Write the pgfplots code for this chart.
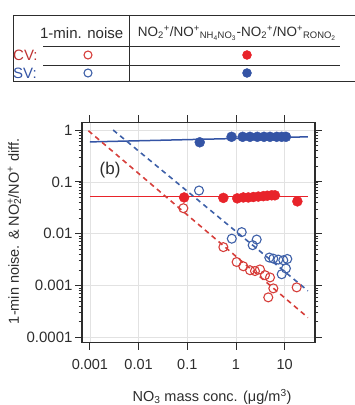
\documentclass[border=0pt]{standalone}
\usepackage{fontspec}
\setmainfont{Liberation Sans}
\usepackage{pgfplots}
\pgfplotsset{compat=1.18}
\definecolor{cred}{RGB}{232,35,42}
\definecolor{cblue}{RGB}{52,84,165}
\definecolor{ored}{RGB}{214,62,58}
\definecolor{oblue}{RGB}{62,96,168}
\definecolor{txt}{RGB}{45,45,45}
\definecolor{labred}{RGB}{190,50,50}
\definecolor{gridc}{RGB}{226,226,226}
\newcommand\fl{\fontsize{15}{17}\selectfont}
\begin{document}
\begin{tikzpicture}[x=1pt,y=1pt]
\path[use as bounding box] (0,0) rectangle (355,405);
\begin{axis}[
  at={(82pt,62.3pt)}, anchor=south west,
  width=233pt, height=220.4pt, scale only axis,
  xmode=log, ymode=log,
  xmin=6.88e-4, xmax=41.9, ymin=7.87e-5, ymax=1.41,
  xtick={0.001,0.01,0.1,1,10},
  xticklabels={0.001,0.01,0.1,1,10},
  ytick={0.0001,0.001,0.01,0.1,1},
  yticklabels={0.0001,0.001,0.01,0.1,1},
  xminorticks=false,
  tick align=outside,
  major tick length=7pt, minor tick length=3.5pt,
  every tick/.style={txt, line width=0.9pt},
  minor tick style={txt, line width=0.7pt},
  axis line style={txt, line width=1.1pt},
  grid=major, major grid style={gridc, line width=0.6pt},
  xticklabel style={font=\fontsize{14.5}{16}\selectfont, text=txt, yshift=-6pt},
  yticklabel style={font=\fl, text=txt, xshift=1pt},
  xlabel={NO\textsubscript{3} mass conc. (μg/m\textsuperscript{3})},
  ylabel={1-min noise. \& NO\rlap{\textsuperscript{+}}\textsubscript{2}/NO\textsuperscript{+} diff.},
  label style={font=\fontsize{14.5}{16}\selectfont, text=txt},
  x label style={at={(axis description cs:0.558,-0.246)}, anchor=center},
  y label style={at={(axis description cs:-0.29,0.505)}, anchor=center},
  clip=true,
]
% fitted lines
\addplot[cblue, line width=1.5pt] coordinates {(0.001,0.59) (30,0.74)};
\addplot[cred, line width=1.5pt] coordinates {(0.001,0.052) (30,0.052)};
\addplot[oblue, line width=1.6pt, dash pattern=on 5pt off 4pt] coordinates {(0.003,1.0) (30,7.9e-4)};
\addplot[ored, line width=1.6pt, dash pattern=on 5pt off 4pt] coordinates {(0.00093,0.97) (30,2.4e-4)};
% SV ratio difference (filled blue)
\addplot[only marks, mark=*, mark size=5pt, draw=cblue, fill=cblue] coordinates {
(0.18,0.58) (0.81,0.74) (1.37,0.74) (1.94,0.74) (2.74,0.74) (3.76,0.74) (4.99,0.74) (6.86,0.74) (8.67,0.74) (10.6,0.74)};
% CV ratio difference (filled red)
\addplot[only marks, mark=*, mark size=5pt, draw=cred, fill=cred] coordinates {
(0.086,0.050) (0.55,0.049) (1.06,0.048) (1.41,0.050) (1.79,0.050) (2.27,0.051) (2.87,0.052) (3.64,0.053) (4.4,0.054) (5.4,0.055) (6.3,0.055) (18.2,0.042)};
% SV noise (open blue)
\addplot[only marks, mark=o, mark size=4.5pt, draw=oblue, line width=1.1pt] coordinates {
(0.174,0.068) (0.82,0.0080) (1.31,0.0107) (2.2,0.0060) (2.66,0.0077) (4.83,0.00346) (5.83,0.0033) (7.39,0.00316) (9.36,0.00307) (11.3,0.00325) (8.68,0.00165) (10.6,0.00213)};
% CV noise (open red)
\addplot[only marks, mark=o, mark size=4.5pt, draw=ored, line width=1.1pt] coordinates {
(0.083,0.031) (0.55,0.0055) (1.03,0.00284) (1.41,0.00235) (1.94,0.00197) (2.45,0.0019) (3.11,0.00204) (3.94,0.00158) (4.99,0.00143) (5.84,0.00088) (4.6,0.00059) (17.6,0.00092)};
\node[font=\fontsize{17}{19}\selectfont, text=txt] at (axis cs:0.0026,0.165) {(b)};
\end{axis}
% legend table
\begin{axis}[
  at={(0pt,0pt)}, anchor=south west,
  width=355pt, height=405pt, scale only axis,
  xmin=0, xmax=355, ymin=0, ymax=405, y dir=reverse,
  hide axis, clip=false,
]
\draw[txt, line width=0.9pt] (13,15) -- (355,15);
\draw[txt, line width=0.9pt] (13,81) -- (355,81);
\draw[txt, line width=0.9pt] (13,15) -- (13,81);
\draw[txt, line width=0.9pt] (129.3,15) -- (129.3,81);
\draw[txt, line width=0.7pt] (43,46.7) -- (340,46.7);
\draw[txt, line width=0.7pt] (43,65) -- (340,65);
\node[font=\fontsize{15}{17}\selectfont, text=txt] at (81.7,33) {1-min. noise};
\node[font=\fontsize{13.5}{16}\selectfont, text=txt, inner sep=0pt] at (237,33) {NO\textsubscript{2}\textsuperscript{+}/NO\textsuperscript{+}\textsubscript{NH\textsubscript{4}NO\textsubscript{3}}-NO\textsubscript{2}\textsuperscript{+}/NO\textsuperscript{+}\textsubscript{RONO\textsubscript{2}}};
\node[font=\fontsize{15}{17}\selectfont, text=labred, anchor=west, inner sep=0pt] at (13,55) {CV:};
\node[font=\fontsize{15}{17}\selectfont, text=cblue, anchor=west, inner sep=0pt] at (13,73) {SV:};
\addplot[only marks, mark=o, mark size=4pt, draw=ored, line width=1.1pt] coordinates {(88,55)};
\addplot[only marks, mark=*, mark size=4.5pt, draw=cred, fill=cred] coordinates {(247,55)};
\addplot[only marks, mark=o, mark size=4pt, draw=oblue, line width=1.1pt] coordinates {(88,73)};
\addplot[only marks, mark=*, mark size=4.5pt, draw=cblue, fill=cblue] coordinates {(247,73)};
\end{axis}
\end{tikzpicture}
\end{document}
